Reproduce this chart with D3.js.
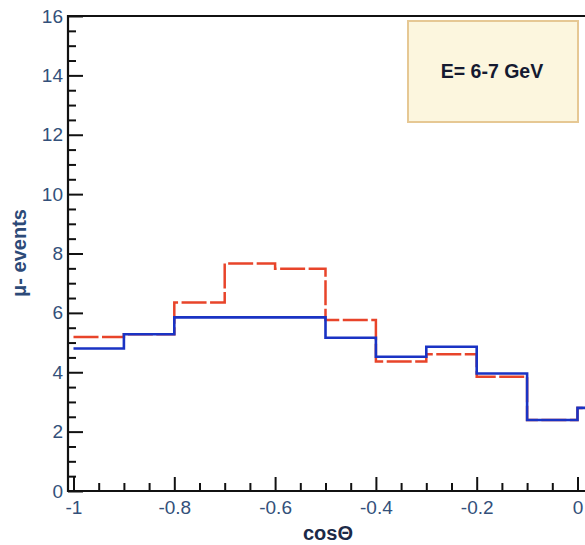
<!DOCTYPE html>
<html><head><meta charset="utf-8">
<script src="https://cdn.jsdelivr.net/npm/d3@7"></script>
<style>body{margin:0;background:#fff}</style>
</head><body>
<svg id="c" width="585" height="545"></svg>
<script>
// ---- data ----
const binEdges = [-1, -0.9, -0.8, -0.7, -0.6, -0.5, -0.4, -0.3, -0.2, -0.1, 0, 0.1];
const blueValues = [4.8, 5.28, 5.85, 5.85, 5.85, 5.16, 4.52, 4.86, 3.96, 2.39, 2.8];
const redValues  = [5.19, 5.28, 6.35, 7.66, 7.49, 5.76, 4.36, 4.61, 3.85, 2.39, 2.8];
const xTickValues = [-1, -0.8, -0.6, -0.4, -0.2, 0];
const xTickLabels = ["-1", "-0.8", "-0.6", "-0.4", "-0.2", "0"];
const yTickValues = [0, 2, 4, 6, 8, 10, 12, 14, 16];
const yTickLabels = ["0", "2", "4", "6", "8", "10", "12", "14", "16"];
const boxText = "E= 6-7 GeV";
const xTitle = "cos\u0398";
const yTitle = "\u03bc- events";

// ---- layout ----
const svg = d3.select("#c");
const axisX0 = 68, axisY0 = 491, topY = 16;
const x = d3.scaleLinear().domain([-1, 0]).range([73.5, 577.5]);
const y = d3.scaleLinear().domain([0, 16]).range([axisY0, topY]);
const font = "'Liberation Sans', Arial, Helvetica, sans-serif";
const labelColor = "#33507a";

// clip
svg.append("clipPath").attr("id", "plot").append("rect")
  .attr("x", axisX0).attr("y", topY).attr("width", 585 - axisX0).attr("height", axisY0 - topY);

// histograms
function steps(vals) {
  const pts = vals.map((v, i) => [binEdges[i], v]);
  pts.push([binEdges[vals.length], vals[vals.length - 1]]);
  return pts;
}
const line = d3.line().x(d => x(d[0])).y(d => y(d[1])).curve(d3.curveStepAfter);
const g = svg.append("g").attr("clip-path", "url(#plot)");
g.append("path").attr("d", line(steps(redValues)))
  .attr("fill", "none").attr("stroke", "#e8442a").attr("stroke-width", 2.5)
  .attr("stroke-dasharray", "25,3.5");
g.append("path").attr("d", line(steps(blueValues)))
  .attr("fill", "none").attr("stroke", "#1a33c4").attr("stroke-width", 2.6);

// x axis: major ticks
const xMajor = d3.axisBottom(x).tickValues(xTickValues)
  .tickFormat((d, i) => xTickLabels[i]).tickSizeInner(-14).tickSizeOuter(0).tickPadding(9);
const gx = svg.append("g").attr("transform", `translate(0,${axisY0})`).call(xMajor);
gx.select(".domain").remove();
gx.selectAll(".tick line").attr("stroke", "#111").attr("stroke-width", 2);
gx.selectAll(".tick text").attr("font-family", font).attr("font-size", 19)
  .attr("fill", labelColor).attr("dy", "0.75em");
// x minor
const xMinorVals = d3.range(0, 23).map(i => -1 + i * 0.05).filter(v => xTickValues.every(t => Math.abs(t - v) > 1e-6));
const gxm = svg.append("g").attr("transform", `translate(0,${axisY0})`)
  .call(d3.axisBottom(x).tickValues(xMinorVals).tickSizeInner(-8).tickSizeOuter(0).tickFormat(""));
gxm.select(".domain").remove();
gxm.selectAll(".tick line").attr("stroke", "#111").attr("stroke-width", 2);

// y axis
const yMajor = d3.axisLeft(y).tickValues(yTickValues)
  .tickFormat((d, i) => yTickLabels[i]).tickSizeInner(-15).tickSizeOuter(0).tickPadding(5);
const gy = svg.append("g").attr("transform", `translate(${axisX0},0)`).call(yMajor);
gy.select(".domain").remove();
gy.selectAll(".tick line").attr("stroke", "#111").attr("stroke-width", 2);
gy.selectAll(".tick text").attr("font-family", font).attr("font-size", 19).attr("fill", labelColor);
const yMinorVals = d3.range(0, 33).map(i => i * 0.5).filter(v => yTickValues.indexOf(v) < 0);
const gym = svg.append("g").attr("transform", `translate(${axisX0},0)`)
  .call(d3.axisLeft(y).tickValues(yMinorVals).tickSizeInner(-8).tickSizeOuter(0).tickFormat(""));
gym.select(".domain").remove();
gym.selectAll(".tick line").attr("stroke", "#111").attr("stroke-width", 2);

// frame lines
svg.append("line").attr("x1", axisX0).attr("x2", 585).attr("y1", axisY0).attr("y2", axisY0)
  .attr("stroke", "#111").attr("stroke-width", 2.2);
svg.append("line").attr("x1", axisX0).attr("x2", 585).attr("y1", topY).attr("y2", topY)
  .attr("stroke", "#111").attr("stroke-width", 2.2);
svg.append("line").attr("x1", axisX0).attr("x2", axisX0).attr("y1", topY - 1).attr("y2", axisY0 + 1)
  .attr("stroke", "#111").attr("stroke-width", 2.2);

// titles
svg.append("text").attr("x", 328).attr("y", 535).attr("text-anchor", "middle")
  .attr("dominant-baseline", "middle").attr("font-family", font).attr("font-size", 20)
  .attr("font-weight", "bold").attr("fill", "#1c2a48").text(xTitle);
svg.append("text").attr("transform", "translate(21,253) rotate(-90)").attr("text-anchor", "middle")
  .attr("dominant-baseline", "middle").attr("font-family", font).attr("font-size", 20)
  .attr("font-weight", "bold").attr("fill", "#2c4a78").text(yTitle);

// label box
svg.append("rect").attr("x", 408).attr("y", 21).attr("width", 170).attr("height", 101)
  .attr("fill", "#fcf6de").attr("stroke", "#e6c894").attr("stroke-width", 2);
svg.append("text").attr("x", 492).attr("y", 73).attr("text-anchor", "middle")
  .attr("dominant-baseline", "middle").attr("font-family", font).attr("font-size", 19.5)
  .attr("font-weight", "bold").attr("fill", "#151a30").text(boxText);
</script>
</body></html>
